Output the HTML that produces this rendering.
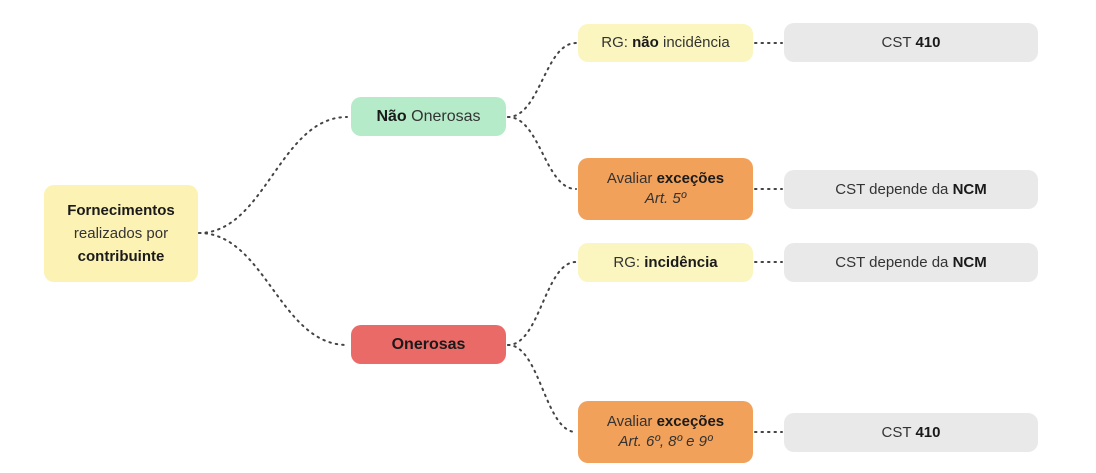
<!DOCTYPE html>
<html><head><meta charset="utf-8"><style>
html,body{margin:0;padding:0;background:#fff;}
body{width:1096px;height:473px;position:relative;overflow:hidden;font-family:"Liberation Sans","DejaVu Sans",sans-serif;color:#333;}
.b{position:absolute;border-radius:10px;display:flex;align-items:center;justify-content:center;text-align:center;font-size:15px;line-height:20px;box-sizing:border-box;}
b{color:#1a1a1a;}
svg{position:absolute;left:0;top:0;}
</style></head><body>
<svg width="1096" height="473">
<g fill="none" stroke="#444" stroke-width="2" stroke-dasharray="1.5 5" stroke-linecap="round">
<path d="M199 233 C265 233 280 117 347 117"/>
<path d="M199 233 C265 233 280 345 347 345"/>
<path d="M508 117 C540 117 545 43 576 43"/>
<path d="M508 117 C540 117 545 189 576 189"/>
<path d="M508 345 C540 345 545 262 576 262"/>
<path d="M508 345 C540 345 545 432 576 432"/>
<path d="M755 43 L782 43"/>
<path d="M755 189 L782 189"/>
<path d="M755 262 L782 262"/>
<path d="M755 432 L782 432"/>
</g></svg>
<div class="b" style="left:44px;top:185px;width:154px;height:97px;background:#fcf2b4;line-height:23px;"><div><b>Fornecimentos</b><br>realizados por<br><b>contribuinte</b></div></div>
<div class="b" style="left:351px;top:97px;width:155px;height:39px;background:#b6ebc9;font-size:16px;"><div><b>Não</b> Onerosas</div></div>
<div class="b" style="left:351px;top:325px;width:155px;height:39px;background:#ea6a68;font-size:16px;"><b>Onerosas</b></div>
<div class="b" style="left:578px;top:24px;width:175px;height:38px;background:#fbf5bf;"><div>RG: <b>não</b> incidência</div></div>
<div class="b" style="left:578px;top:158px;width:175px;height:62px;background:#f2a15a;"><div>Avaliar <b>exceções</b><br><i>Art. 5º</i></div></div>
<div class="b" style="left:578px;top:243px;width:175px;height:39px;background:#fbf5bf;"><div>RG: <b>incidência</b></div></div>
<div class="b" style="left:578px;top:401px;width:175px;height:62px;background:#f2a15a;"><div>Avaliar <b>exceções</b><br><i>Art. 6º, 8º e 9º</i></div></div>
<div class="b" style="left:784px;top:23px;width:254px;height:39px;background:#e9e9e9;"><div>CST <b>410</b></div></div>
<div class="b" style="left:784px;top:170px;width:254px;height:39px;background:#e9e9e9;"><div>CST depende da <b>NCM</b></div></div>
<div class="b" style="left:784px;top:243px;width:254px;height:39px;background:#e9e9e9;"><div>CST depende da <b>NCM</b></div></div>
<div class="b" style="left:784px;top:413px;width:254px;height:39px;background:#e9e9e9;"><div>CST <b>410</b></div></div>
</body></html>
